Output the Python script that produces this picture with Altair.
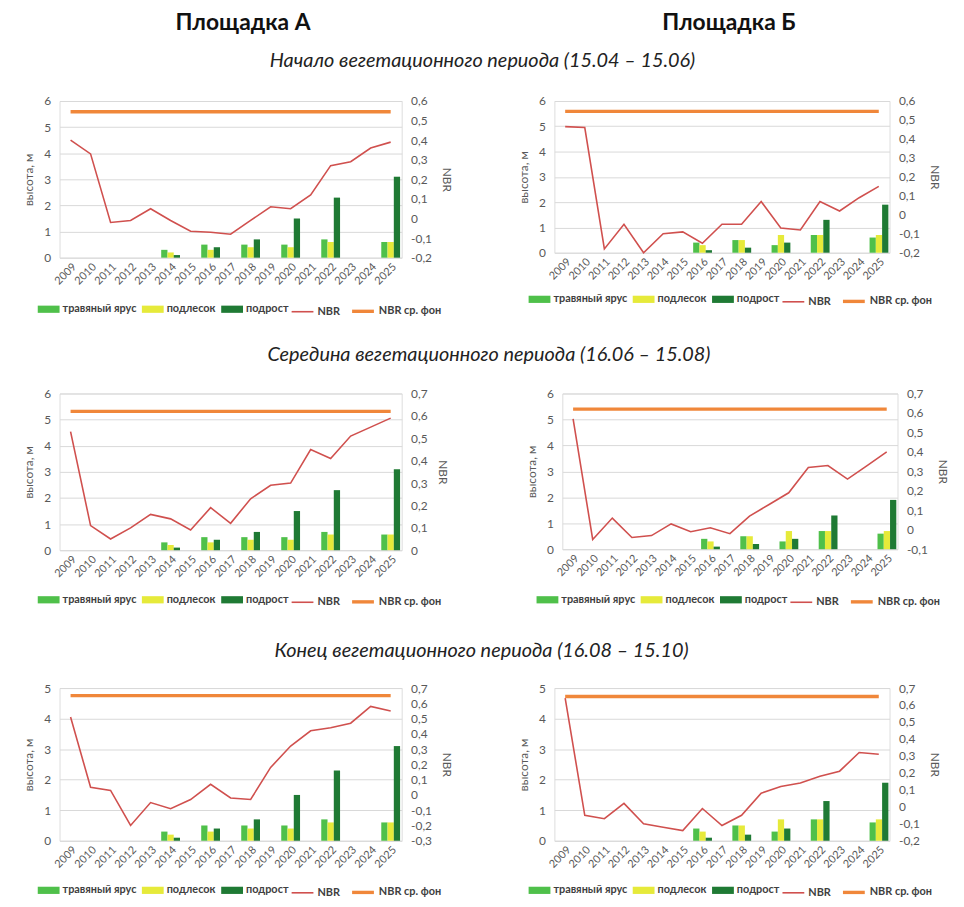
import altair as alt
import pandas as pd

FONT = "Lato"
YEARS = [str(y) for y in range(2009, 2026)]
BAR_SERIES = ["травяный ярус", "подлесок", "подрост"]
LINE_SERIES = ["NBR", "NBR ср. фон"]
BAR_COLORS = ["#4fc04a", "#e6ea3a", "#1f7a34"]
LINE_COLORS = ["#d0504e", "#f0873a"]

# Площадка А – bars (same in all periods)
A_BAR_YEARS = ["2014", "2016", "2018", "2020", "2022", "2025"]
A_GRASS = [0.3, 0.5, 0.5, 0.5, 0.7, 0.6]
A_UNDER = [0.2, 0.3, 0.4, 0.4, 0.6, 0.6]
A_YOUNG = [0.1, 0.4, 0.7, 1.5, 2.3, 3.1]

# Площадка Б – bars
B_BAR_YEARS = ["2016", "2018", "2020", "2022", "2025"]
B_GRASS = [0.4, 0.5, 0.3, 0.7, 0.6]
B_UNDER = [0.3, 0.5, 0.7, 0.7, 0.7]
B_YOUNG = [0.1, 0.2, 0.4, 1.3, 1.9]

# NBR series 2009..2025
NBR_A_START = [0.40, 0.33, -0.02, -0.01, 0.05, -0.01, -0.065, -0.07, -0.08, -0.01, 0.06, 0.05, 0.12, 0.27, 0.29, 0.36, 0.39]
NBR_B_START = [0.465, 0.46, -0.18, -0.05, -0.20, -0.10, -0.09, -0.15, -0.05, -0.05, 0.07, -0.07, -0.08, 0.07, 0.02, 0.09, 0.15]
NBR_A_MID = [0.53, 0.11, 0.05, 0.10, 0.16, 0.14, 0.09, 0.19, 0.12, 0.23, 0.29, 0.30, 0.45, 0.41, 0.51, 0.55, 0.59]
NBR_B_MID = [0.57, -0.05, 0.06, -0.04, -0.03, 0.03, -0.01, 0.01, -0.02, 0.07, 0.13, 0.19, 0.32, 0.33, 0.26, 0.33, 0.40]
NBR_A_END = [0.51, 0.05, 0.03, -0.20, -0.05, -0.09, -0.03, 0.07, -0.02, -0.03, 0.18, 0.32, 0.42, 0.44, 0.47, 0.58, 0.55]
NBR_B_END = [0.64, -0.05, -0.07, 0.02, -0.10, -0.12, -0.14, -0.01, -0.11, -0.05, 0.08, 0.12, 0.14, 0.18, 0.21, 0.32, 0.31]

BG_A_START, BG_B_START = 0.545, 0.545
BG_A_MID, BG_B_MID = 0.62, 0.62
BG_A_END, BG_B_END = 0.65, 0.65

# axis ticks
L_TICKS_6 = [0, 1, 2, 3, 4, 5, 6]
L_TICKS_5 = [0, 1, 2, 3, 4, 5]
R_TICKS_START = [-0.2, -0.1, 0, 0.1, 0.2, 0.3, 0.4, 0.5, 0.6]
R_TICKS_MID_A = [0, 0.1, 0.2, 0.3, 0.4, 0.5, 0.6, 0.7]
R_TICKS_MID_B = [-0.1, 0, 0.1, 0.2, 0.3, 0.4, 0.5, 0.6, 0.7]
R_TICKS_END_A = [-0.3, -0.2, -0.1, 0, 0.1, 0.2, 0.3, 0.4, 0.5, 0.6, 0.7]
R_TICKS_END_B = [-0.2, -0.1, 0, 0.1, 0.2, 0.3, 0.4, 0.5, 0.6, 0.7]

HEADERS = ["Площадка А", "Площадка Б"]
ROW_TITLES = [
    "Начало вегетационного периода (15.04 – 15.06)",
    "Середина вегетационного периода (16.06 – 15.08)",
    "Конец вегетационного периода (16.08 – 15.10)",
]

AXIS_GRAY = "#595959"
RIGHT_FMT = "datum.value == 0 ? '0' : replace(replace(format(datum.value, '.1f'), '.', ','), '\u2212', '-')"


def legend_common(lx, ly, pad, **kw):
    return alt.Legend(
        title=None, orient="none", direction="horizontal", legendX=lx - pad, legendY=ly - pad,
        padding=pad, labelFont=FONT, labelFontSize=11, labelFontWeight="bold", labelColor="#404040",
        columnPadding=5, labelOffset=3, **kw,
    )


def panel(bar_years, grass, under, young, nbr, bg, lticks, rticks, w, h, ly, lx1, lx2, pad):
    n = len(bar_years)
    bars_df = pd.DataFrame({
        "year": bar_years * 3,
        "series": [BAR_SERIES[0]] * n + [BAR_SERIES[1]] * n + [BAR_SERIES[2]] * n,
        "value": grass + under + young,
    })
    lines_df = pd.DataFrame({
        "year": YEARS * 2,
        "series": [LINE_SERIES[0]] * len(YEARS) + [LINE_SERIES[1]] * len(YEARS),
        "value": nbr + [bg] * len(YEARS),
    })
    x = alt.X(
        "year:N",
        scale=alt.Scale(domain=YEARS, paddingInner=0.06, paddingOuter=0.08),
        axis=alt.Axis(title=None, labelAngle=-45, ticks=False, domain=False,
                      labelColor=AXIS_GRAY, labelFont=FONT, labelFontSize=11, labelPadding=3),
    )
    bars = alt.Chart(bars_df).mark_bar().encode(
        x=x,
        xOffset=alt.XOffset("series:N", scale=alt.Scale(domain=BAR_SERIES, paddingInner=0, paddingOuter=0)),
        y=alt.Y("value:Q",
                scale=alt.Scale(domain=[lticks[0], lticks[-1]], nice=False),
                axis=alt.Axis(title="высота, м", values=lticks, grid=True, gridColor="#d9d9d9",
                              ticks=False, domain=False, labelColor=AXIS_GRAY, labelFont=FONT,
                              labelFontSize=12, labelPadding=9, titleColor=AXIS_GRAY, titleFont=FONT,
                              titleFontSize=12, titleFontWeight="normal", titlePadding=8)),
        fill=alt.Fill("series:N", scale=alt.Scale(domain=BAR_SERIES, range=BAR_COLORS),
                      legend=legend_common(lx1, ly, pad, symbolType="M-1,-0.33H1V0.33H-1Z",
                                           symbolSize=484, symbolStrokeWidth=0)),
    )
    sw_legend = legend_common(lx2, ly, pad, symbolType="stroke", symbolSize=484)
    lines = alt.Chart(lines_df).mark_line().encode(
        x=x,
        y=alt.Y("value:Q",
                scale=alt.Scale(domain=[rticks[0], rticks[-1]], nice=False, zero=False),
                axis=alt.Axis(orient="right", title="NBR", values=rticks, grid=False, ticks=False,
                              domain=False, labelExpr=RIGHT_FMT, labelColor=AXIS_GRAY, labelFont=FONT,
                              labelFontSize=12, labelPadding=9, titleColor=AXIS_GRAY, titleFont=FONT,
                              titleFontSize=12, titleFontWeight="normal", titlePadding=8)),
        stroke=alt.Stroke("series:N", scale=alt.Scale(domain=LINE_SERIES, range=LINE_COLORS),
                          legend=sw_legend),
        strokeWidth=alt.StrokeWidth("series:N", scale=alt.Scale(domain=LINE_SERIES, range=[1.6, 3.4]),
                                    legend=sw_legend),
    )
    return alt.layer(bars, lines).resolve_scale(y="independent").properties(width=w, height=h)


def row(title, left, right, offset):
    return alt.hconcat(left, right, spacing=64).resolve_scale(
        fill="independent", stroke="independent", strokeWidth="independent", x="independent", y="independent"
    ).properties(
        title=alt.TitleParams(title, font=FONT, fontSize=20, fontStyle="italic", fontWeight="normal",
                              color="#222222", anchor="middle", offset=offset)
    )


def header(text, w):
    return alt.Chart(pd.DataFrame({"t": [text]})).mark_text(
        font=FONT, fontSize=23, fontWeight="bold", color="#111111", dy=3
    ).encode(text="t:N").properties(width=w, height=12)


head = alt.hconcat(header(HEADERS[0], 370), header(HEADERS[1], 300), spacing=155)

WA, WB = 345, 338
row1 = row(ROW_TITLES[0],
           panel(A_BAR_YEARS, A_GRASS, A_UNDER, A_YOUNG, NBR_A_START, BG_A_START, L_TICKS_6, R_TICKS_START, WA, 158, 199, -22, 233, 10),
           panel(B_BAR_YEARS, B_GRASS, B_UNDER, B_YOUNG, NBR_B_START, BG_B_START, L_TICKS_6, R_TICKS_START, WB, 153, 189, -26, 229, 10),
           24)
row2 = row(ROW_TITLES[1],
           panel(A_BAR_YEARS, A_GRASS, A_UNDER, A_YOUNG, NBR_A_MID, BG_A_MID, L_TICKS_6, R_TICKS_MID_A, WA, 158, 197, -22, 233, 15),
           panel(B_BAR_YEARS, B_GRASS, B_UNDER, B_YOUNG, NBR_B_MID, BG_B_MID, L_TICKS_6, R_TICKS_MID_B, WB, 157, 197, -26, 229, 15),
           22)
row3 = row(ROW_TITLES[2],
           panel(A_BAR_YEARS, A_GRASS, A_UNDER, A_YOUNG, NBR_A_END, BG_A_END, L_TICKS_5, R_TICKS_END_A, WA, 154, 193, -22, 233, 0),
           panel(B_BAR_YEARS, B_GRASS, B_UNDER, B_YOUNG, NBR_B_END, BG_B_END, L_TICKS_5, R_TICKS_END_B, WB, 154, 193, -26, 229, 0),
           21)

chart = alt.vconcat(head, row1, row2, row3, spacing=16).resolve_scale(
    fill="independent", stroke="independent", strokeWidth="independent", x="independent", y="independent"
).properties(
    padding={"left": 14, "top": 0, "right": 0, "bottom": 0}
).configure_view(strokeWidth=0).configure(background="white")

chart.save("out.html", embed_options={"renderer": "svg", "actions": False})
